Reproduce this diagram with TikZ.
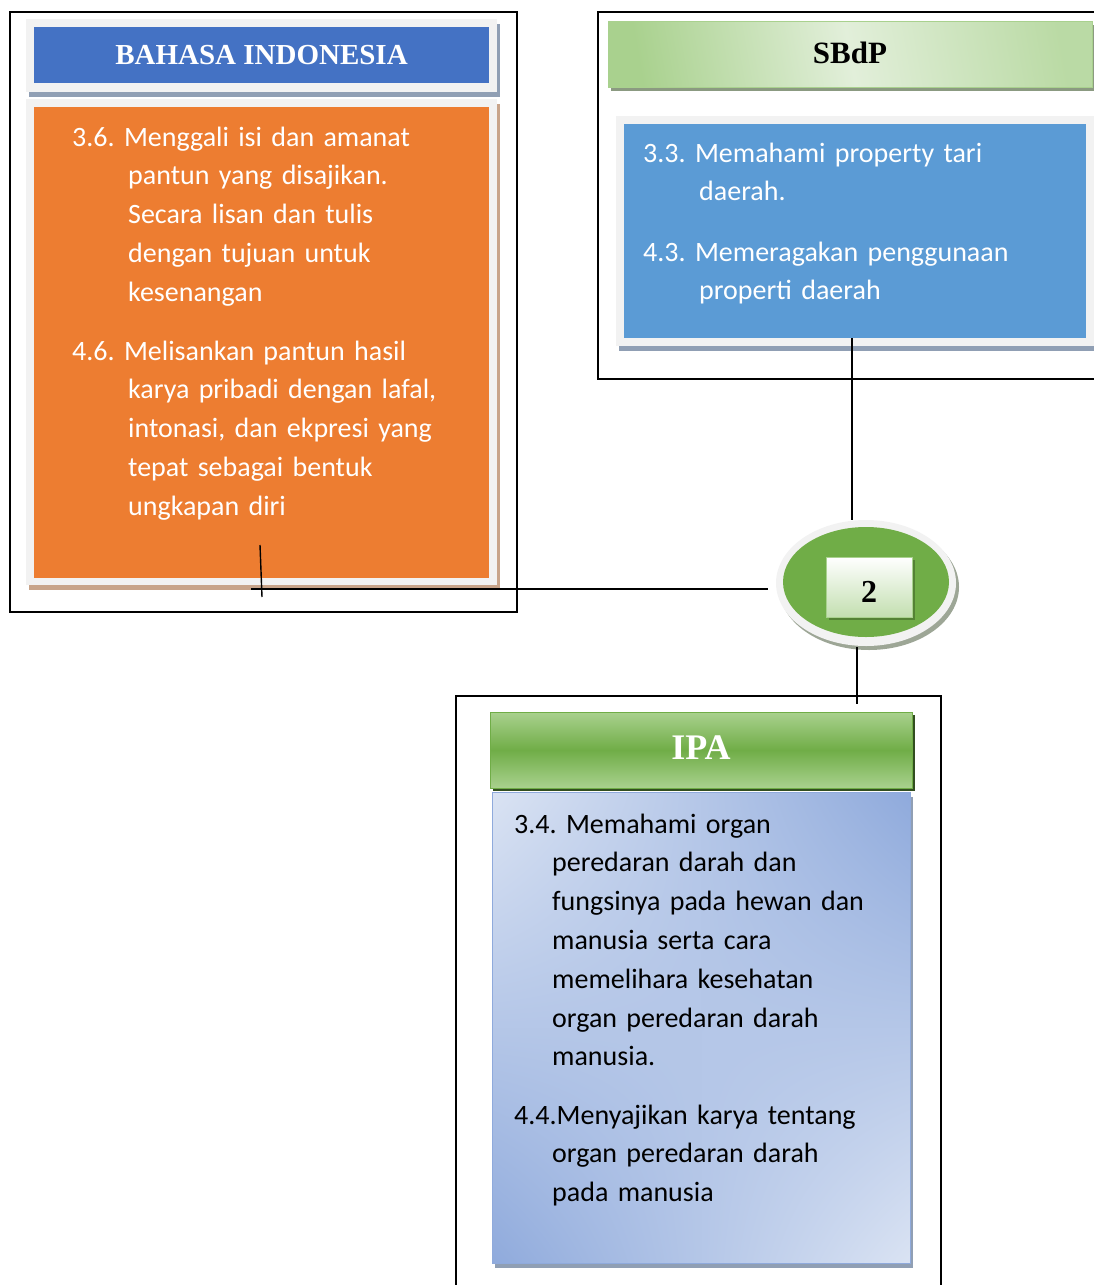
\documentclass[tikz,border=0pt]{standalone}
\usepackage{fontspec}
\setmainfont{Carlito}
\newfontfamily\headfont{Liberation Serif}
\usepackage{tikz}
\usetikzlibrary{shadows,shadings,shapes.geometric}
\definecolor{headblue}{HTML}{4472C4}
\definecolor{panelgray}{HTML}{F2F2F2}
\definecolor{slate}{HTML}{909FB4}
\definecolor{bodyorange}{HTML}{ED7D31}
\definecolor{tan}{HTML}{C8A48A}
\definecolor{bodyblue}{HTML}{5B9BD5}
\definecolor{leaf}{HTML}{70AD47}
\definecolor{leaflight}{HTML}{A9D18E}
\definecolor{leafpale}{HTML}{E2EFDA}
\definecolor{leafdark}{HTML}{548235}
\definecolor{sky}{HTML}{8FAADC}
\definecolor{skypale}{HTML}{DAE3F3}
\tikzstyle{frame}=[draw=black, line width=1.4pt, inner sep=0]
\tikzstyle{panel}=[fill=panelgray, inner sep=0, drop shadow={shadow xshift=3pt, shadow yshift=-5pt, fill=slate, opacity=1}]
\tikzstyle{box}=[inner sep=0]
\tikzstyle{title}=[text=white, font=\headfont\bfseries\fontsize{29}{32}\selectfont]
\tikzstyle{item}=[anchor=base west, inner sep=0, text width=440pt, align=left, text=white, font=\fontsize{28}{38.8}\selectfont\frenchspacing]
\tikzstyle{edge}=[-, draw=black, line width=1.4pt]
\newcommand{\wide}{\\\hspace*{56pt}}
\newcommand{\narrow}{\\\hspace*{38pt}}
\pgfdeclarelayer{nodelayer}
\pgfdeclarelayer{edgelayer}
\pgfsetlayers{main,nodelayer,edgelayer}
\begin{document}
\begin{tikzpicture}[x=1pt, y=-1pt]
	\useasboundingbox (0,0) rectangle (1093,1285);
	\begin{pgfonlayer}{nodelayer}
		% bahasa indonesia
		\node [style=frame, minimum width=507pt, minimum height=600pt] (bifr) at (263.5, 312) {};
		\node [style=panel, minimum width=471pt, minimum height=73pt] (bihb) at (261.5, 55.5) {};
		\node [style=box, fill=headblue, minimum width=455pt, minimum height=56pt] (bih) at (261.5, 55) {};
		\node [style=title] (bit) at (261.5, 55) {BAHASA INDONESIA};
		\node [style=panel, drop shadow={shadow xshift=3pt, shadow yshift=-5pt, fill=tan, opacity=1}, minimum width=471pt, minimum height=486pt] (bibb) at (261.5, 342) {};
		\node [style=box, fill=bodyorange, minimum width=455pt, minimum height=471pt] (bib) at (261.5, 342.5) {};
		\node [style=item] (bi1) at (72, 146) {3.6. Menggali isi dan amanat\wide pantun yang disajikan.\wide Secara lisan dan tulis\wide dengan tujuan untuk\wide kesenangan};
		\node [style=item] (bi2) at (72, 360) {4.6. Melisankan pantun hasil\wide karya pribadi dengan lafal,\wide intonasi, dan ekpresi yang\wide tepat sebagai bentuk\wide ungkapan diri};
		% sbdp
		\node [style=frame, minimum width=512pt, minimum height=367pt] (sbfr) at (854, 195.5) {};
		\node [style=box, draw=leaflight, line width=1pt, left color=leaflight, right color=leaflight!80, middle color=leafpale, shading angle=100, drop shadow={shadow xshift=3pt, shadow yshift=-4pt, fill=leafdark!40!gray!80, opacity=1}, minimum width=484pt, minimum height=66pt] (sbh) at (850, 54) {};
		\node [style=title, text=black, font=\headfont\bfseries\fontsize{31}{34}\selectfont] (sbt) at (850, 53) {SBdP};
		\node [style=panel, minimum width=484pt, minimum height=230pt] (sbbb) at (858, 231) {};
		\node [style=box, fill=bodyblue, minimum width=462pt, minimum height=214pt] (sbb) at (855, 231) {};
		\node [style=item] (sb1) at (643, 162) {3.3. Memahami property tari\wide daerah.};
		\node [style=item] (sb2) at (643, 261) {4.3. Memeragakan penggunaan\wide properti daerah};
		% circle
		\node [style=box, shape=ellipse, fill=panelgray, drop shadow={shadow xshift=3pt, shadow yshift=-4pt, fill=leafdark!30!gray!70, opacity=1}, minimum width=180pt, minimum height=126pt] (ring) at (866, 583) {};
		\node [style=box, shape=ellipse, fill=leaf, minimum width=166pt, minimum height=110pt] (ringin) at (866, 582) {};
		\node [style=box, draw=leaflight, line width=1pt, top color=white, bottom color=leaflight!70, drop shadow={shadow xshift=3pt, shadow yshift=-3pt, fill=leafdark, opacity=1}, minimum width=86pt, minimum height=60pt] (num) at (869, 587) {};
		\node [style=title, text=black, font=\headfont\bfseries\fontsize{32}{34}\selectfont] (numt) at (869, 592) {2};
		% ipa
		\node [style=frame, minimum width=485pt, minimum height=604pt] (ipfr) at (698.5, 998) {};
		\node [style=box, draw=leaf, line width=1pt, top color=leaflight, bottom color=leaflight, middle color=leaf, drop shadow={shadow xshift=3pt, shadow yshift=-3pt, fill=leafdark!60!black, opacity=1}, minimum width=422pt, minimum height=76pt] (iph) at (701, 750) {};
		\node [style=title, font=\headfont\bfseries\fontsize{36}{38}\selectfont] (ipt) at (701, 748) {IPA};
		\node [style=box, draw=sky, line width=1pt, upper left=skypale, upper right=sky, lower left=sky, lower right=skypale, drop shadow={shadow xshift=3pt, shadow yshift=-5pt, fill=slate, opacity=1}, minimum width=418pt, minimum height=471pt] (ipb) at (701, 1027.5) {};
		\node [style=item, text=black] (ip1) at (514, 833) {3.4. Memahami organ\narrow peredaran darah dan\narrow fungsinya pada hewan dan\narrow manusia serta cara\narrow memelihara kesehatan\narrow organ peredaran darah\narrow manusia.};
		\node [style=item, text=black] (ip2) at (514, 1124) {4.4.Menyajikan karya tentang\narrow organ peredaran darah\narrow pada manusia};
	\end{pgfonlayer}
	\begin{pgfonlayer}{edgelayer}
		\coordinate (a) at (251, 589);
		\coordinate (b) at (768, 589);
		\coordinate (c) at (260, 545);
		\coordinate (d) at (262, 597);
		\coordinate (e) at (852, 338);
		\coordinate (f) at (852, 520);
		\coordinate (g) at (857, 647);
		\coordinate (h) at (857, 704);
		\draw [style=edge] (a) to (b);
		\draw [style=edge] (c) to (d);
		\draw [style=edge] (e) to (f);
		\draw [style=edge] (g) to (h);
	\end{pgfonlayer}
\end{tikzpicture}
\end{document}
